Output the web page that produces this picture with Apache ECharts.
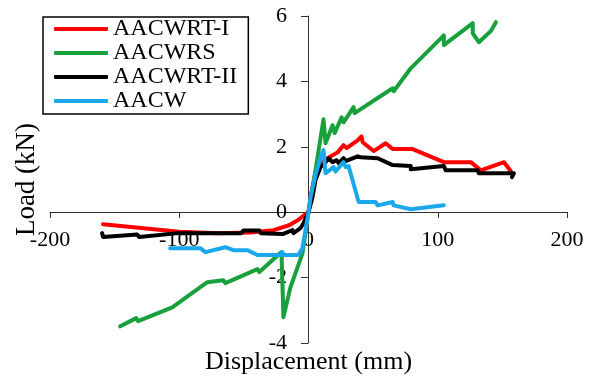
<!DOCTYPE html>
<html>
<head>
<meta charset="utf-8">
<script src="https://cdn.jsdelivr.net/npm/echarts@6/dist/echarts.min.js"></script>
<style>
  html, body { margin: 0; padding: 0; background: #fff; }
  #chart { width: 592px; height: 380px; }
</style>
</head>
<body>
<div id="chart"></div>
<script>
const seriesNames = ["AACWRT-I", "AACWRS", "AACWRT-II", "AACW"];
const xTicks = [-200, -100, 0, 100, 200];
const yTicks = [-4, -2, 0, 2, 4, 6];

// [displacement mm, load kN]
const aacwrt1 = [
  [-159, -0.37], [-100, -0.6], [-70, -0.64], [-45, -0.62], [-27, -0.55], [-15, -0.4],
  [-8, -0.24], [-3, -0.08], [0, 0], [1.6, 0.46], [5.4, 1.22], [10.9, 1.53], [14.7, 1.65],
  [22.5, 1.83], [27.1, 2.05], [29.5, 1.96], [38, 2.2], [41, 2.32], [41.9, 2.14],
  [50.4, 1.87], [59.7, 2.11], [65.1, 1.93], [80.6, 1.93], [104.7, 1.53], [125.6, 1.53],
  [133.3, 1.28], [151.2, 1.53], [156.6, 1.25]
];
const aacwrs = [
  [-145.7, -3.49], [-133.3, -3.24], [-131.8, -3.33], [-105.4, -2.91], [-104.7, -2.97],
  [-78.3, -2.14], [-77.5, -2.2], [-65.9, -2.08], [-64.3, -2.17], [-39.5, -1.74],
  [-38, -1.83], [-20.9, -1.22], [-19.4, -3.21], [-14, -2.3], [-4.6, -1.25], [0, 0],
  [5.4, 1.28], [11.6, 2.84], [13.2, 2.11], [18.6, 2.66], [20.2, 2.42], [25.6, 2.9],
  [27.1, 2.75], [34.9, 3.21], [35.7, 3.03], [65.1, 3.79], [65.9, 3.7], [79.1, 4.4],
  [104.7, 5.41], [104.7, 5.11], [127.1, 5.78], [127.1, 5.47], [131.8, 5.2],
  [141.1, 5.54], [145, 5.81]
];
const aacwrt2 = [
  [-159.7, -0.64], [-158.9, -0.76], [-132.6, -0.68], [-131, -0.76], [-100.8, -0.64],
  [-52, -0.64], [-50.4, -0.56], [-38, -0.56], [-37, -0.64], [-20, -0.67], [-12.4, -0.55],
  [-11.6, -0.64], [-6.2, -0.49], [-3.9, -0.34], [0, 0], [3.1, 0.46], [5.4, 0.98],
  [9.3, 1.38], [13.2, 1.53], [15.5, 1.65], [18.6, 1.53], [21.7, 1.59], [23.3, 1.5],
  [27.1, 1.65], [28.7, 1.56], [38, 1.71], [39.5, 1.77], [40.3, 1.68], [53.5, 1.65],
  [65.1, 1.44], [79.1, 1.41], [79.1, 1.31], [104.7, 1.41], [106.2, 1.28], [131, 1.28],
  [131.8, 1.19], [158.9, 1.19], [157.4, 1.07]
];
const aacw = [
  [-107, -1.1], [-83.7, -1.1], [-79.8, -1.22], [-64.3, -1.07], [-58.1, -1.16],
  [-47.3, -1.16], [-39.5, -1.31], [-21.7, -1.31], [-20.2, -1.22], [-19.4, -1.31],
  [-7.8, -1.31], [-4.7, -1.1], [0, 0], [1.6, 0.46], [5.4, 1.13], [9.3, 1.68],
  [11.6, 1.9], [13.2, 1.19], [19.4, 1.38], [20.9, 1.25], [27.1, 1.53], [28.7, 1.38],
  [31, 1.41], [38.8, 0.31], [51.9, 0.31], [53.5, 0.21], [65.1, 0.31], [65.9, 0.21],
  [79.1, 0.09], [104.7, 0.21]
];

const seriesData = [aacwrt1, aacwrs, aacwrt2, aacw];
const colors = ["#ff0000", "#17a03b", "#000000", "#1ba7ec"];
const font = "'Liberation Serif', 'Times New Roman', serif";

const chart = echarts.init(document.getElementById("chart"));
chart.setOption({
  animation: false,
  grid: { left: 50, right: 25, top: 16, bottom: 37, containLabel: false, outerBoundsMode: "none" },
  legend: {
    left: 43,
    top: 17,
    orient: "vertical",
    icon: "roundRect",
    itemWidth: 54,
    itemHeight: 4,
    itemGap: 0,
    padding: [0, 11, 1, 11],
    borderColor: "#000",
    borderWidth: 1.5,
    backgroundColor: "#fff",
    textStyle: { fontFamily: font, fontSize: 24, color: "#000", lineHeight: 24 },
    data: seriesNames
  },
  xAxis: {
    type: "value",
    min: xTicks[0],
    max: xTicks[xTicks.length - 1],
    interval: 100,
    position: "bottom",
    offset: -131,
    name: "Displacement (mm)",
    nameLocation: "middle",
    nameGap: 137,
    nameTextStyle: { fontFamily: font, fontSize: 26, color: "#000" },
    axisLine: { onZero: false, lineStyle: { color: "#333", width: 1 } },
    axisTick: { show: true, length: 6, lineStyle: { color: "#333" } },
    axisLabel: { fontFamily: font, fontSize: 22, color: "#000", margin: 17 },
    splitLine: { show: false }
  },
  yAxis: {
    type: "value",
    min: yTicks[0],
    max: yTicks[yTicks.length - 1],
    interval: 2,
    position: "left",
    offset: -258,
    name: "Load (kN)",
    nameLocation: "middle",
    nameGap: 268,
    nameTextStyle: { fontFamily: font, fontSize: 27, color: "#000" },
    axisLine: { onZero: false, lineStyle: { color: "#333", width: 1 } },
    axisTick: { show: true, length: 7, lineStyle: { color: "#333" } },
    axisLabel: { fontFamily: font, fontSize: 22, color: "#000", margin: 21 },
    splitLine: { show: false }
  },
  series: seriesNames.map((name, i) => ({
    name: name,
    type: "line",
    data: seriesData[i],
    showSymbol: false,
    symbol: "none",
    color: colors[i],
    lineStyle: { color: colors[i], width: 4, cap: "round", join: "round" }
  }))
});
</script>
</body>
</html>
